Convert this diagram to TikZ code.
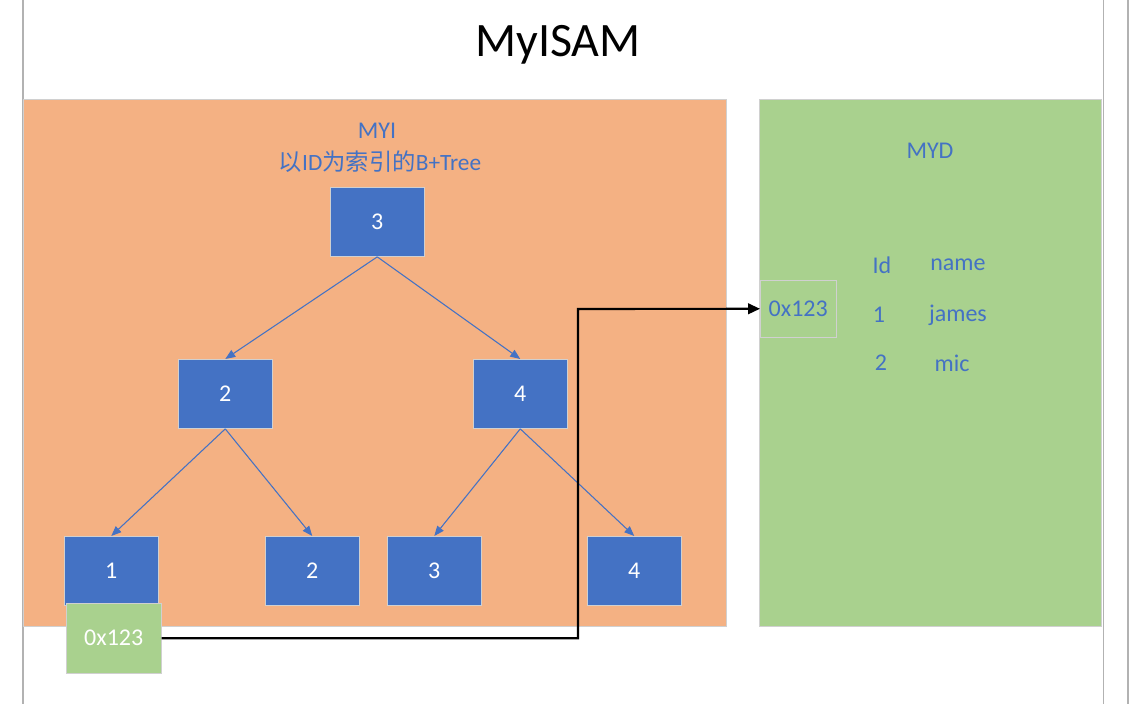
\documentclass[tikz,border=0pt]{standalone}
\usepackage{fontspec}
\setmainfont{Carlito}
\newfontfamily\cjk{Noto Sans CJK SC}
\usetikzlibrary{arrows.meta}
\definecolor{orng}{HTML}{F4B183}
\definecolor{grn}{HTML}{A9D18E}
\definecolor{blu}{HTML}{4472C4}
\definecolor{edge}{HTML}{D0D0D0}
\begin{document}
\begin{tikzpicture}[x=0.75pt,y=-0.75pt,
  treebox/.style={draw=edge,fill=blu,text=white,minimum width=70.5pt,minimum height=52pt,inner sep=0pt,font=\fontsize{18}{21}\selectfont,anchor=north west},
  tlink/.style={draw=blu,line width=0.8pt,-{Triangle[length=7.5pt,width=6pt]}},
  lbl/.style={text=blu,font=\fontsize{18}{21}\selectfont,inner sep=0pt}]
\useasboundingbox (0,0) rectangle (1129,704);
\fill[white] (0,0) rectangle (1129,704);
\draw[gray!60,line width=0.8pt] (23,0) -- (23,704);
\draw[gray!60,line width=0.8pt] (1103.5,0) -- (1103.5,704);
\draw[gray!60,line width=0.8pt] (1128,0) -- (1128,704);
\node[font=\fontsize{36}{40}\selectfont,inner sep=0pt] (title) at (558,45) {MyISAM};
\node[draw=edge,fill=orng,minimum width=527.25pt,minimum height=395.25pt,inner sep=0pt,anchor=north west] (myi) at (23,99) {};
\node[draw=edge,fill=grn,minimum width=256.5pt,minimum height=395.25pt,inner sep=0pt,anchor=north west] (myd) at (759,99) {};
\node[lbl] (myil) at (377,131) {MYI};
\node[lbl,font=\fontsize{17.5}{20}\selectfont] (myis) at (380,162) {{\cjk 以}ID{\cjk 为索引的}B+Tree};
\node[lbl] (mydl) at (930,151) {MYD};
% tree
\node[treebox] (r) at (330,187) {3};
\node[treebox] (a) at (178,359) {2};
\node[treebox] (b) at (473,359) {4};
\node[treebox] (l1) at (64,536) {1};
\node[treebox] (l2) at (265,536) {2};
\node[treebox] (l3) at (387,536) {3};
\node[treebox] (l4) at (587,536) {4};
\draw[tlink] (r.south) -- (a.north);
\draw[tlink] (r.south) -- (b.north);
\draw[tlink] (a.south) -- (l1.north);
\draw[tlink] (a.south) -- (l2.north);
\draw[tlink] (b.south) -- (l3.north);
\draw[tlink] (b.south) -- (l4.north);
\node[draw=edge,fill=grn,text=white,minimum width=71.25pt,minimum height=52.5pt,inner sep=0pt,anchor=north west,font=\fontsize{18}{21}\selectfont] (ptr) at (66,603) {0x123};
% MYD contents
\node[draw=edge,text=blu,minimum width=57pt,minimum height=42.75pt,inner sep=0pt,anchor=north west,font=\fontsize{18}{21}\selectfont] (addr) at (760,280) {0x123};
\node[lbl] (h1) at (882,265) {Id};
\node[lbl] (h2) at (958,265) {name};
\node[lbl] (c1) at (879,315) {1};
\node[lbl] (c2) at (958,315) {james};
\node[lbl] (d1) at (881,363) {2};
\node[lbl] (d2) at (952,363) {mic};
\coordinate (k2) at (578,309);
\draw[black,line width=1.6pt,-{Triangle[length=9pt,width=8pt]}] (ptr.east) -| (k2) -- (addr.west);
\end{tikzpicture}
\end{document}
